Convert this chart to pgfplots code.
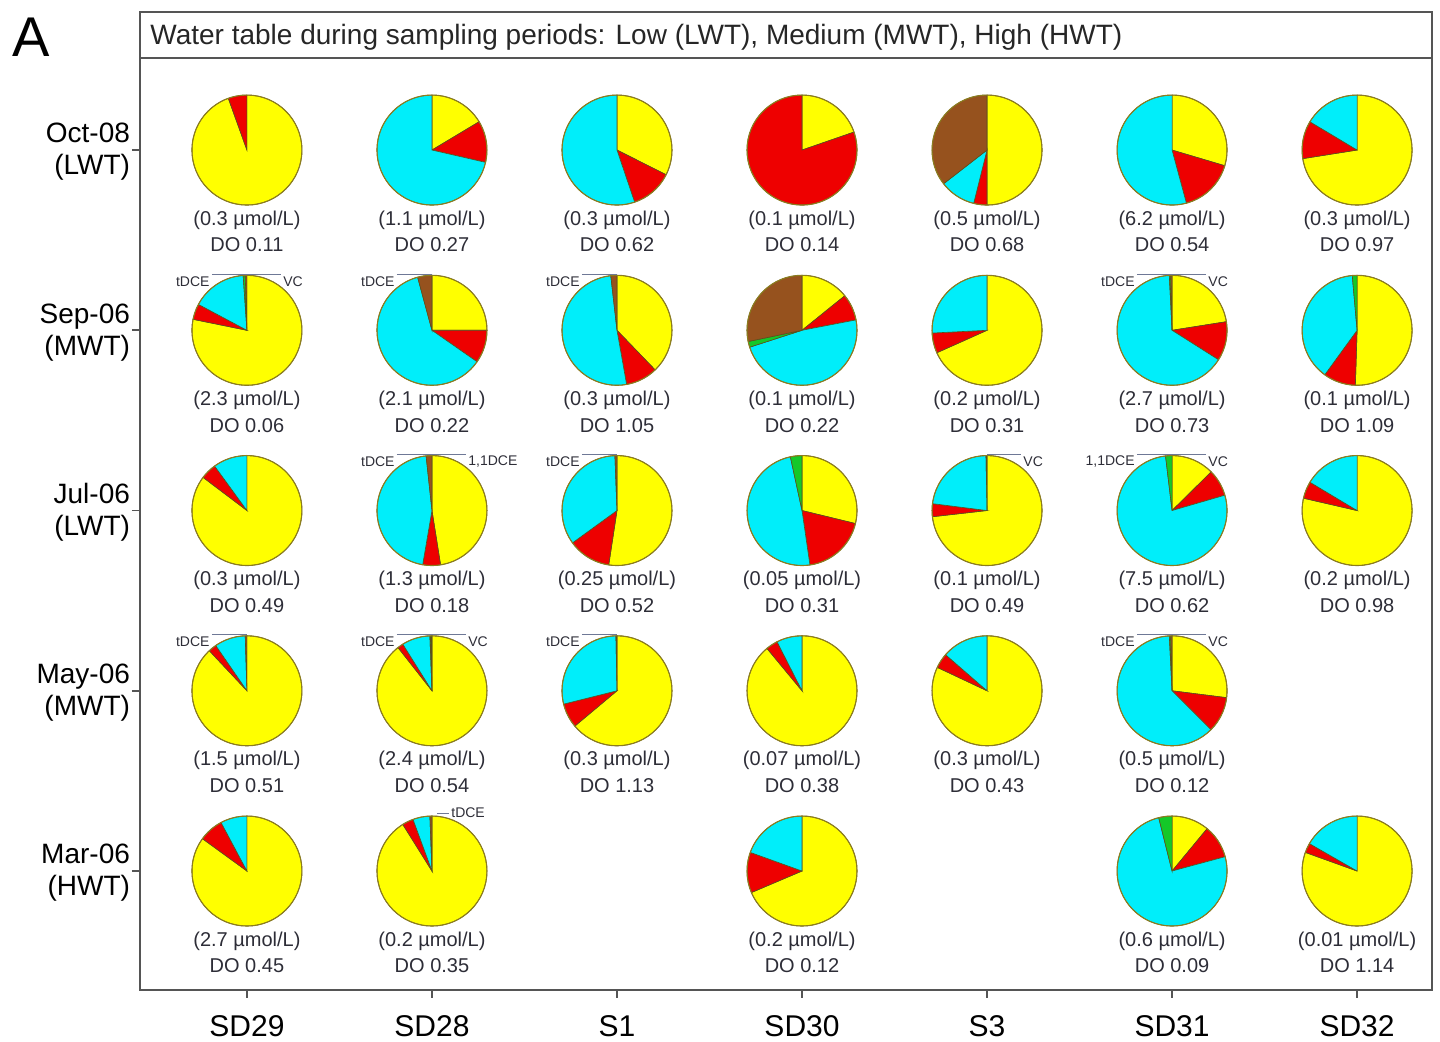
\documentclass[border=0pt]{standalone}
\usepackage{fontspec}
\setmainfont{Liberation Sans}
\usepackage{pgfplots}
\pgfplotsset{compat=1.18}
\definecolor{pyel}{RGB}{255,255,0}
\definecolor{pred}{RGB}{238,0,0}
\definecolor{pcya}{RGB}{0,238,250}
\definecolor{pgre}{RGB}{20,200,40}
\definecolor{pbro}{RGB}{150,82,30}
\definecolor{pout}{RGB}{140,125,30}
\definecolor{wline}{RGB}{90,80,30}
\definecolor{axiscol}{RGB}{85,85,85}
\definecolor{labtext}{RGB}{45,45,55}
\definecolor{leadcol}{RGB}{110,120,150}
\def\pieR{27.5pt}
\newcommand{\pwedge}[5]{%
  \ifdim #4pt>\dimexpr #3pt+0.05pt\relax
    \filldraw[fill=#5, draw=wline, line width=0.3pt] (axis cs:#1,#2) -- ++({90-#3}:\pieR) arc[start angle={90-#3}, end angle={90-#4}, radius=\pieR] -- cycle;
  \fi}
% x, y, yellow, red, cyan, green, brown, conc, DO
\newcommand{\pie}[9]{%
 \pgfplotsextra{%
  \pgfmathsetmacro\pT{#3+#4+#5+#6+#7}%
  \pgfmathsetmacro\pF{360/\pT}%
  \pgfmathsetmacro\pA{\pF*#3}%
  \pgfmathsetmacro\pB{\pA+\pF*#4}%
  \pgfmathsetmacro\pC{\pB+\pF*#5}%
  \pgfmathsetmacro\pD{\pC+\pF*#6}%
  \pwedge{#1}{#2}{0}{\pA}{pyel}%
  \pwedge{#1}{#2}{\pA}{\pB}{pred}%
  \pwedge{#1}{#2}{\pB}{\pC}{pcya}%
  \pwedge{#1}{#2}{\pC}{\pD}{pgre}%
  \pwedge{#1}{#2}{\pD}{360}{pbro}%
  \draw[pout, line width=0.55pt] (axis cs:#1,#2) circle[radius=\pieR];
  \node[font=\fontsize{10}{12}\selectfont, text=labtext, inner sep=0pt] at ([yshift=-35pt]axis cs:#1,#2) {(#8 µmol/L)};
  \node[font=\fontsize{10}{12}\selectfont, text=labtext, inner sep=0pt] at ([yshift=-47.5pt]axis cs:#1,#2) {DO #9};
 }}
\newcommand{\lblL}[3]{\pgfplotsextra{%
  \draw[leadcol, line width=0.4pt] ([xshift=-17.5pt,yshift=28pt]axis cs:#1,#2) -- ([yshift=28pt]axis cs:#1,#2);
  \node[font=\fontsize{7}{8}\selectfont, text=labtext, anchor=east, inner sep=0.5pt] at ([xshift=-18pt,yshift=24.5pt]axis cs:#1,#2) {#3};}}
\newcommand{\lblR}[3]{\pgfplotsextra{%
  \draw[leadcol, line width=0.4pt] ([yshift=28pt]axis cs:#1,#2) -- ([xshift=17pt,yshift=28pt]axis cs:#1,#2);
  \node[font=\fontsize{7}{8}\selectfont, text=labtext, anchor=west, inner sep=0.5pt] at ([xshift=17.5pt,yshift=24.5pt]axis cs:#1,#2) {#3};}}
\newcommand{\lblRs}[3]{\pgfplotsextra{%
  \draw[leadcol, line width=0.4pt] ([xshift=2.5pt,yshift=29pt]axis cs:#1,#2) -- ([xshift=8.5pt,yshift=29pt]axis cs:#1,#2);
  \node[font=\fontsize{7}{8}\selectfont, text=labtext, anchor=west, inner sep=0.5pt] at ([xshift=9pt,yshift=29pt]axis cs:#1,#2) {#3};}}
\begin{document}
\begin{tikzpicture}
\begin{axis}[
  scale only axis, width=646pt, height=489pt,
  xmin=-0.578, xmax=6.405, ymin=-0.66, ymax=4.766,
  xtick={0,1,2,3,4,5,6},
  xticklabels={SD29,SD28,S1,SD30,S3,SD31,SD32},
  ytick={0,1,2,3,4},
  yticklabels={{Mar-06\\(HWT)},{May-06\\(MWT)},{Jul-06\\(LWT)},{Sep-06\\(MWT)},{Oct-08\\(LWT)}},
  yticklabel style={align=right, font=\fontsize{14}{16}\selectfont, xshift=2.5pt, yshift=-1pt},
  xticklabel style={font=\fontsize{15}{18}\selectfont, yshift=-5pt},
  tick align=outside, major tick length=4pt,
  tick style={axiscol, line width=0.8pt},
  xtick pos=bottom, ytick pos=left,
  axis line style={axiscol, line width=1pt},
  clip=false,
]
\addplot[draw=none] coordinates {(0,0)};
% Oct-08
\pie{0}{4}{94.5}{5.5}{0}{0}{0}{0.3}{0.11}
\pie{1}{4}{16.4}{12.2}{71.4}{0}{0}{1.1}{0.27}
\pie{2}{4}{32.4}{12.4}{55.2}{0}{0}{0.3}{0.62}
\pie{3}{4}{19.7}{80.3}{0}{0}{0}{0.1}{0.14}
\pie{4}{4}{50}{3.9}{10.6}{0}{35.5}{0.5}{0.68}
\pie{5}{4}{29.6}{16.2}{54.2}{0}{0}{6.2}{0.54}
\pie{6}{4}{72.5}{11.1}{16.4}{0}{0}{0.3}{0.97}
% Sep-06
\pie{0}{3}{78.2}{4.6}{16.1}{0.6}{0.5}{2.3}{0.06}
\pie{1}{3}{25}{9.7}{61.1}{0}{4.2}{2.1}{0.22}
\pie{2}{3}{37.8}{9.4}{51}{0}{1.8}{0.3}{1.05}
\pie{3}{3}{14.2}{7.8}{48.1}{1.7}{28.3}{0.1}{0.22}
\pie{4}{3}{68.3}{5.9}{25.8}{0}{0}{0.2}{0.31}
\pie{5}{3}{22.5}{11.5}{65.2}{0.4}{0.4}{2.7}{0.73}
\pie{6}{3}{50.5}{9.5}{38.6}{1.4}{0}{0.1}{1.09}
% Jul-06
\pie{0}{2}{85.3}{4.7}{10}{0}{0}{0.3}{0.49}
\pie{1}{2}{47.5}{5.2}{45.6}{0}{1.7}{1.3}{0.18}
\pie{2}{2}{52.4}{12.6}{34.4}{0}{0.6}{0.25}{0.52}
\pie{3}{2}{28.8}{18.9}{48.9}{3.4}{0}{0.05}{0.31}
\pie{4}{2}{73.2}{3.8}{22.7}{0.3}{0}{0.1}{0.49}
\pie{5}{2}{12.6}{7.9}{77.6}{1.9}{0}{7.5}{0.62}
\pie{6}{2}{78.6}{5}{16.4}{0}{0}{0.2}{0.98}
% May-06
\pie{0}{1}{88}{2.4}{9.1}{0}{0.5}{1.5}{0.51}
\pie{1}{1}{89.4}{1.7}{8.3}{0.3}{0.3}{2.4}{0.54}
\pie{2}{1}{63.9}{7.2}{28.6}{0}{0.3}{0.3}{1.13}
\pie{3}{1}{89}{3.5}{7.5}{0}{0}{0.07}{0.38}
\pie{4}{1}{82}{4.4}{13.6}{0}{0}{0.3}{0.43}
\pie{5}{1}{27}{10.5}{61.7}{0.4}{0.4}{0.5}{0.12}
% Mar-06
\pie{0}{0}{85}{7.2}{7.8}{0}{0}{2.7}{0.45}
\pie{1}{0}{91.1}{3.3}{5}{0}{0.6}{0.2}{0.35}
\pie{3}{0}{68.6}{11.9}{19.5}{0}{0}{0.2}{0.12}
\pie{5}{0}{11}{9.8}{75.3}{3.9}{0}{0.6}{0.09}
\pie{6}{0}{80.5}{2.8}{16.7}{0}{0}{0.01}{1.14}
% leader labels
\lblL{0}{3}{tDCE}\lblR{0}{3}{VC}
\lblL{1}{3}{tDCE}
\lblL{2}{3}{tDCE}
\lblL{5}{3}{tDCE}\lblR{5}{3}{VC}
\lblL{1}{2}{tDCE}\lblR{1}{2}{1,1DCE}
\lblL{2}{2}{tDCE}
\lblR{4}{2}{VC}
\lblL{5}{2}{1,1DCE}\lblR{5}{2}{VC}
\lblL{0}{1}{tDCE}
\lblL{1}{1}{tDCE}\lblR{1}{1}{VC}
\lblL{2}{1}{tDCE}
\lblL{5}{1}{tDCE}\lblR{5}{1}{VC}
\lblRs{1}{0}{tDCE}
% header
\draw[axiscol, line width=1pt] ([yshift=-23pt]rel axis cs:0,1) -- ([yshift=-23pt]rel axis cs:1,1);
\node[anchor=west, font=\fontsize{14}{16}\selectfont, text=black!85, inner sep=0pt] at ([xshift=5pt,yshift=-12.5pt]rel axis cs:0,1) {Water table during sampling periods: Low (LWT), Medium (MWT), High (HWT)};
\node[font=\fontsize{28}{30}\selectfont, inner sep=0pt] at ([xshift=-54.5pt,yshift=-12.5pt]rel axis cs:0,1) {A};
\end{axis}
\pgfresetboundingbox
\path[use as bounding box] (-70pt,-26pt) rectangle (650pt,495pt);
\end{tikzpicture}
\end{document}
